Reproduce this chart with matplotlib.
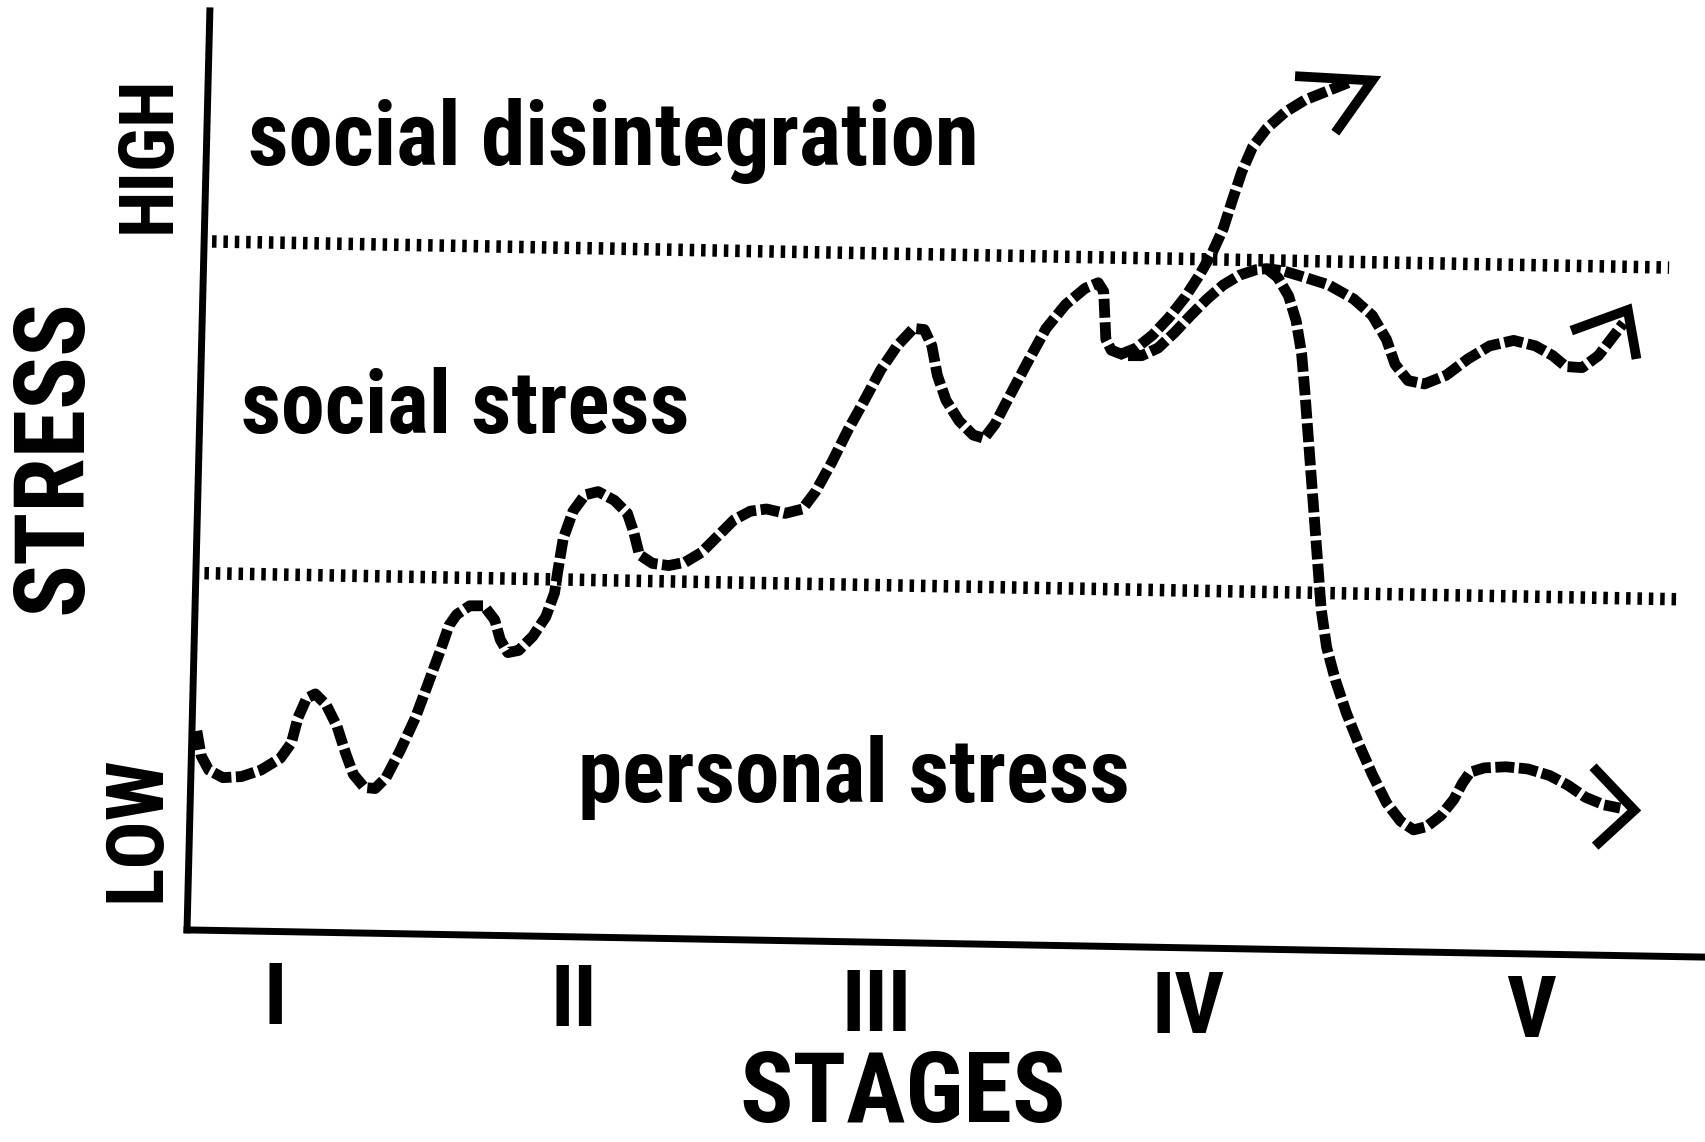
import matplotlib
matplotlib.use("Agg")
import matplotlib.pyplot as plt
from matplotlib import font_manager

# ---------------- data (schematic coordinates, y grows downward) ----------------
axis_y_x = [193, 172]
axis_y_y = [10, 855]
axis_x_x = [172, 1568]
axis_x_y = [855, 880]

upper_bound_x = [195, 1535]
upper_bound_y = [222, 246]
lower_bound_x = [188, 1545]
lower_bound_y = [527, 551]

main_x = [181, 185, 192, 205, 222, 240, 258, 268, 274, 282, 290, 300, 310, 318, 325, 335,
          345, 355, 368, 382, 395, 405, 413, 420, 432, 445, 455, 460, 467, 477, 490, 502,
          510, 513, 518, 527, 538, 550, 565, 577, 583, 588, 600, 615, 630, 645, 660, 675,
          690, 705, 722, 738, 750, 765, 780, 795, 810, 825, 840, 850, 857, 862, 870, 882,
          895, 905, 915, 928, 945, 962, 980, 998, 1010, 1015, 1016, 1017, 1022, 1035, 1050,
          1065, 1080, 1095, 1110, 1125, 1140, 1155, 1165, 1180, 1200, 1222, 1245, 1262,
          1275, 1283, 1295, 1310, 1330, 1350, 1370, 1392, 1412, 1428, 1440, 1455, 1470,
          1483, 1493]
main_y = [672, 695, 708, 715, 714, 708, 697, 683, 660, 642, 638, 648, 668, 693, 712, 724,
          725, 715, 690, 660, 625, 598, 575, 565, 557, 557, 570, 588, 600, 598, 585, 567,
          545, 525, 495, 470, 455, 452, 460, 472, 490, 510, 518, 520, 517, 508, 493, 478,
          470, 468, 472, 468, 452, 425, 395, 368, 340, 318, 302, 303, 318, 345, 368, 387,
          400, 403, 390, 365, 333, 302, 280, 265, 260, 268, 290, 312, 322, 327, 327,
          320, 306, 290, 275, 262, 253, 248, 247, 249, 255, 262, 275, 290,
          312, 335, 350, 353, 345, 330, 318, 313, 318, 327, 337, 338, 327,
          310, 297]

up_x = [1030, 1045, 1060, 1075, 1090, 1103, 1115, 1125, 1133, 1142, 1152, 1165, 1182,
        1200, 1220, 1240]
up_y = [326, 320, 308, 292, 273, 253, 232, 210, 185, 158, 135, 118, 103, 92, 84, 76]

drop_x = [1165, 1175, 1185, 1192, 1197, 1200, 1203, 1206, 1209, 1212, 1215, 1220, 1228,
          1238, 1250, 1262, 1275, 1288, 1300, 1312, 1325, 1337, 1345, 1352, 1365, 1385,
          1405, 1425, 1442, 1458, 1475, 1490]
drop_y = [247, 255, 272, 295, 325, 360, 400, 440, 480, 520, 560, 595, 625, 655, 685, 712,
          738, 755, 763, 760, 750, 735, 720, 710, 706, 705, 707, 713, 722, 733, 740, 743]

head_up_x = [1191, 1262, 1228]
head_up_y = [70, 74, 122]
head_mid_x = [1445, 1497, 1505]
head_mid_y = [304, 285, 330]
head_low_x = [1465, 1503, 1467]
head_low_y = [705, 745, 778]

region_labels = ["social disintegration", "social stress", "personal stress"]
region_x = [228, 222, 532]
region_y = [152, 398, 737]
region_w = [672, 413, 508]

stage_labels = ["I", "II", "III", "IV", "V"]
stage_x = [253, 528, 806, 1093, 1408]
stage_y = [920, 922, 926, 928, 932]

# ---------------- style ----------------
avail = {f.name for f in font_manager.fontManager.ttflist}
cands = ["Roboto Condensed", "Archivo Narrow", "PT Sans Narrow", "Fira Sans Condensed",
         "IBM Plex Sans Condensed", "Barlow Condensed", "Liberation Sans Narrow", "Liberation Sans"]
fam = [c for c in cands if c in avail][:1] + ["DejaVu Sans"]
plt.rcParams["font.family"] = fam

S = 1705 / 1568.0  # display -> output pixels

fig = plt.figure(figsize=(17.05, 11.42), dpi=100)
ax = fig.add_axes([0, 0, 1, 1])
ax.set_xlim(0, 1568)
ax.set_ylim(1050, 0)
ax.axis("off")

ax.plot(axis_y_x, axis_y_y, color="black", lw=5.0, solid_capstyle="projecting")
ax.plot(axis_x_x, axis_x_y, color="black", lw=5.0, solid_capstyle="projecting")

for xs, ys in [(upper_bound_x, upper_bound_y), (lower_bound_x, lower_bound_y)]:
    ln, = ax.plot(xs, ys, color="black", lw=9.0, dash_capstyle="butt")
    ln.set_dashes((0.36, 0.55))

for xs, ys in [(main_x, main_y), (up_x, up_y), (drop_x, drop_y)]:
    ln, = ax.plot(xs, ys, color="black", lw=7.8, dash_capstyle="butt", dash_joinstyle="round")
    ln.set_dashes((1.75, 0.42))

for xs, ys in [(head_up_x, head_up_y), (head_mid_x, head_mid_y), (head_low_x, head_low_y)]:
    ax.plot(xs, ys, color="black", lw=7.0, solid_joinstyle="miter", solid_capstyle="butt")

texts = []
for lab, x, y, w in zip(region_labels, region_x, region_y, region_w):
    t = ax.text(x, y, lab, fontsize=55, fontweight="bold", ha="left", va="baseline")
    texts.append((t, w, "w"))

for lab, x, y in zip(stage_labels, stage_x, stage_y):
    t = ax.text(x, y, lab, fontsize=62, fontweight="bold", ha="center", va="center")

t = ax.text(830, 1007, "STAGES", fontsize=66, fontweight="bold", ha="center", va="center")
texts.append((t, 300, "w"))
t = ax.text(50, 420, "STRESS", fontsize=68, fontweight="bold", ha="center", va="center", rotation=90)
texts.append((t, 290, "h"))
t = ax.text(137, 142, "HIGH", fontsize=50, fontweight="bold", ha="center", va="center", rotation=90)
texts.append((t, 145, "h"))
t = ax.text(127, 762, "LOW", fontsize=50, fontweight="bold", ha="center", va="center", rotation=90)
texts.append((t, 135, "h"))

# fit font sizes to the measured extents of the reference labels
fig.canvas.draw()
r = fig.canvas.get_renderer()
for t, target, kind in texts:
    bb = t.get_window_extent(renderer=r)
    cur = bb.width if kind == "w" else bb.height
    t.set_fontsize(t.get_fontsize() * target * S / cur)

fig.savefig("out.png", dpi=100, facecolor="white")
